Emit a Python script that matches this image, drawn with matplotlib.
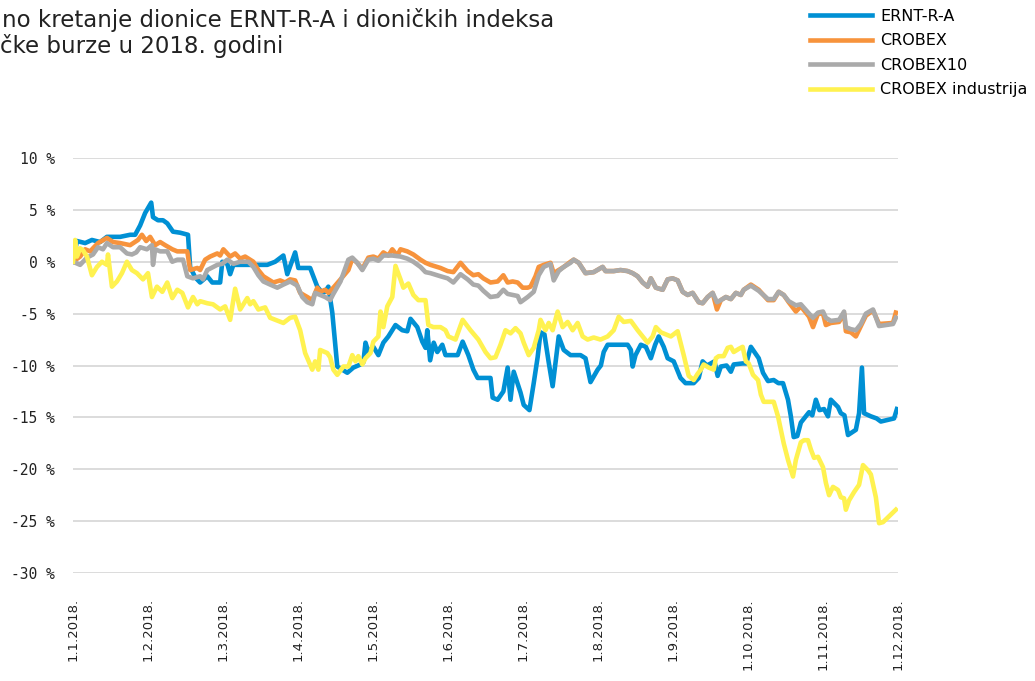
import matplotlib
matplotlib.use("Agg")
import matplotlib.pyplot as plt

# x = trading day since 1.1.2018, y = change in %
ernt_day = [0, 1.1, 3.4, 5.3, 7.6, 9.5, 13.2, 16.0, 17.4, 18.8, 20.2, 21.9, 22.4, 23.8, 25.2,
            26.4, 28.0, 30.0, 32.2, 32.8, 34.2, 35.6, 37.6, 39.0, 41.2, 41.8, 43.2, 44.0,
            44.9, 52.4, 54.4, 56.6, 58.9, 60.0, 62.2, 63.1, 66.4, 67.3, 68.4, 69.8, 70.6,
            71.5, 72.6, 74.0, 76.8, 78.5, 80.5, 81.3, 81.9, 82.7, 84.1, 85.5, 86.9, 88.3,
            90.3, 92.2, 93.6, 94.5, 96.4, 97.8, 98.7, 99.2, 100.0, 101.0, 102.0, 103.4,
            104.3, 107.7, 109.1, 110.7, 112.1, 113.3, 116.9, 117.5, 118.9, 120.5, 121.7,
            122.5, 123.4, 125.3, 126.2, 127.8, 129.0, 130.1, 130.9, 132.0, 133.2, 134.3,
            136.0, 137.4, 139.3, 142.1, 143.5, 144.9, 146.9, 147.8, 148.6, 149.7, 155.3,
            156.2, 156.7, 157.5, 159.0, 160.4, 161.8, 163.0, 164.0, 165.4, 166.5, 168.2,
            170.1, 171.5, 173.8, 175.2, 176.3, 177.5, 178.6, 179.6, 180.5, 181.4, 183.0,
            184.2, 185.0, 187.5, 188.5, 189.8, 192.0, 193.2, 194.6, 196.2, 197.5, 198.8,
            200.2, 201.0, 201.8, 202.8, 203.8, 205.2, 206.1, 207.0, 208.0, 209.0, 210.3,
            211.4, 212.2, 214.2, 215.0, 216.0, 217.0, 219.2, 220.1, 220.9, 221.5, 223.4,
            225.0, 226.2, 229.9, 230.7]
ernt_val = [0.0, 2.0, 1.8, 2.1, 1.9, 2.4, 2.4, 2.6, 2.6, 3.5, 4.7, 5.7, 4.3, 4.0, 4.0,
            3.7, 2.9, 2.8, 2.6, -0.5, -1.5, -2.0, -1.4, -2.0, -2.0, 0.0, -0.2, -1.2,
            -0.3, -0.3, -0.3, 0.0, 0.6, -1.2, 0.9, -0.6, -0.6, -1.4, -2.4, -3.0, -2.9,
            -2.4, -4.9, -10.1, -10.7, -10.2, -9.9, -9.7, -7.8, -8.7, -8.2, -9.0, -7.8, -7.2,
            -6.1, -6.6, -6.7, -5.5, -6.3, -7.7, -8.3, -6.6, -9.5, -7.8, -8.7, -8.0,
            -9.0, -9.0, -7.7, -9.0, -10.4, -11.2, -11.2, -13.1, -13.3, -12.5, -10.2,
            -13.3, -10.6, -12.6, -13.8, -14.3, -11.7, -9.2, -6.8, -7.0, -9.7, -12.0,
            -7.2, -8.5, -9.0, -9.0, -9.3, -11.6, -10.4, -10.0, -8.7, -8.0, -8.0,
            -8.5, -10.1, -9.0, -8.0, -8.2, -9.3, -8.0, -7.2, -8.2, -9.3, -9.6,
            -11.2, -11.7, -11.7, -11.2, -9.6, -10.0, -9.8, -9.6, -11.0, -10.1, -10.0,
            -10.6, -9.9, -9.8, -9.8, -8.2, -9.3, -10.7, -11.5, -11.4, -11.7, -11.7,
            -13.3, -14.9, -16.9, -16.8, -15.5, -14.9, -14.5, -14.8, -13.3, -14.3, -14.2,
            -14.9, -13.3, -14.0, -14.6, -14.8, -16.7, -16.2, -14.6, -10.2, -14.6, -14.9,
            -15.1, -15.4, -15.1, -14.2]

crobex_day = [0, 2.0, 3.4, 4.8, 5.6, 7.0, 9.5, 11.2, 13.2, 16.0, 18.2, 19.3, 20.5, 21.6,
              23.0, 24.4, 25.8, 27.8, 29.2, 32.0, 32.8, 34.8, 35.6, 37.0, 38.4, 40.4, 41.2,
              42.1, 44.0, 45.4, 46.8, 48.2, 50.5, 51.9, 53.3, 54.7, 56.1, 58.0, 59.4, 60.8,
              62.2, 63.6, 65.6, 67.0, 68.4, 69.2, 70.6, 71.5, 72.9, 74.9, 77.1, 78.2, 79.6,
              81.0, 82.7, 84.1, 85.5, 86.9, 88.3, 89.4, 90.8, 91.7, 93.6, 95.3, 97.3, 98.7,
              100.1, 102.9, 104.9, 106.5, 108.5, 110.5, 112.1, 113.5, 114.9, 116.9, 118.9,
              120.5, 121.7, 123.1, 124.5, 125.9, 127.3, 128.1, 129.5, 130.4, 131.8, 133.7,
              134.6, 136.0, 137.4, 139.3, 140.2, 141.6, 143.5, 145.8, 148.3, 149.1, 151.4,
              153.3, 155.3, 156.7, 158.1, 159.5, 160.9, 161.8, 163.2, 165.1, 166.5, 167.9,
              169.3, 170.7, 172.1, 173.5, 175.2, 176.3, 177.7, 179.1, 180.3, 181.4, 182.8,
              184.2, 185.6, 187.0, 187.8, 189.8, 192.0, 194.6, 196.2, 197.6, 199.0, 200.4,
              202.4, 203.8, 206.1, 207.2, 208.6, 210.0, 210.8, 212.2, 214.5, 215.9, 216.4,
              217.8, 219.2, 220.6, 222.0, 224.0, 225.7, 229.6, 230.4]
crobex_val = [0.0, 0.5, 1.2, 1.0, 1.3, 1.8, 2.3, 1.9, 1.8, 1.6, 2.1, 2.6, 2.0, 2.4,
              1.6, 1.9, 1.6, 1.2, 1.0, 1.0, -0.8, -0.6, -0.8, 0.2, 0.5, 0.8, 0.6,
              1.2, 0.5, 0.8, 0.3, 0.5, 0.0, -0.8, -1.4, -1.7, -2.0, -1.8, -2.0, -1.7,
              -1.8, -3.0, -3.4, -3.7, -2.5, -2.9, -2.7, -3.0, -2.5, -1.7, -0.8, 0.3, -0.1,
              -0.7, 0.4, 0.5, 0.3, 0.9, 0.6, 1.2, 0.6, 1.2, 1.0, 0.7, 0.2, -0.1,
              -0.3, -0.6, -0.9, -1.0, -0.1, -0.9, -1.3, -1.2, -1.6, -2.0, -1.9,
              -1.3, -2.0, -1.9, -2.0, -2.5, -2.5, -2.4, -1.4, -0.5, -0.3, -0.1,
              -1.1, -0.8, -0.5, 0.0, 0.2, -0.1, -1.1, -1.0, -0.5, -0.9, -0.9,
              -0.8, -0.9, -1.1, -1.4, -2.0, -2.4, -1.6, -2.5, -2.7, -1.7, -1.6,
              -1.8, -2.9, -3.2, -3.0, -3.9, -4.0, -3.4, -3.0, -4.6, -3.7, -3.4,
              -3.6, -3.0, -3.2, -2.7, -2.2, -2.7, -3.7, -3.7, -2.9, -3.2, -3.9,
              -4.8, -4.3, -5.3, -6.3, -5.0, -5.0, -6.1, -5.9, -5.8, -5.0, -6.7,
              -6.8, -7.2, -6.2, -5.2, -4.7, -6.0, -5.9, -4.9]

crobex10_day = [0, 2.0, 3.9, 5.6, 7.0, 8.4, 9.5, 11.2, 13.2, 15.1, 16.5, 17.7, 18.8, 20.7,
                22.1, 22.4, 23.0, 24.4, 26.4, 27.8, 29.2, 30.8, 32.0, 33.6, 35.6, 36.4,
                37.6, 40.4, 41.8, 43.2, 44.9, 46.8, 49.1, 50.5, 51.9, 53.3, 55.2, 57.2,
                58.9, 60.8, 62.8, 64.2, 65.6, 67.0, 67.8, 69.2, 70.6, 72.0, 72.9, 74.9,
                77.1, 78.2, 79.6, 81.0, 82.7, 84.1, 85.5, 86.9, 89.4, 91.7, 93.6, 95.3,
                97.3, 98.7, 100.1, 102.9, 104.9, 106.5, 108.5, 110.5, 112.1, 113.5, 114.9,
                116.9, 118.9, 120.5, 121.7, 123.1, 124.5, 125.3, 127.3, 129.0, 130.4,
                131.8, 133.7, 134.6, 136.0, 137.4, 139.3, 140.2, 141.6, 143.5, 145.8,
                148.3, 149.1, 151.4, 153.3, 155.3, 156.7, 158.1, 159.5, 160.9, 161.8,
                163.2, 165.1, 166.5, 167.9, 169.3, 170.7, 172.1, 173.5, 175.2, 176.3,
                177.7, 179.1, 180.3, 181.4, 182.8, 184.2, 185.6, 187.0, 187.8, 189.8,
                192.0, 194.6, 196.2, 197.6, 199.0, 200.4, 202.4, 203.8, 206.1, 207.2,
                208.6, 210.0, 210.8, 212.2, 214.5, 215.9, 216.4, 217.8, 219.2, 220.6,
                222.0, 224.0, 225.7, 229.6, 230.4]
crobex10_val = [0.0, -0.3, 0.4, 0.7, 1.4, 1.2, 1.8, 1.4, 1.4, 0.8, 0.7, 0.9, 1.4, 1.2,
                1.6, -0.3, 1.2, 1.0, 1.0, 0.0, 0.2, 0.2, -1.4, -1.6, -1.4, -1.7,
                -0.8, -0.3, -0.2, 0.2, -0.2, 0.0, 0.0, -0.5, -1.3, -1.9, -2.2, -2.5,
                -2.2, -1.9, -2.3, -3.4, -3.9, -4.1, -3.0, -3.2, -3.4, -3.7, -3.1, -1.9,
                0.2, 0.4, -0.1, -0.8, 0.2, 0.3, 0.1, 0.6, 0.6, 0.5, 0.3, 0.0,
                -0.5, -1.0, -1.1, -1.4, -1.6, -2.0, -1.2, -1.7, -2.2, -2.3, -2.8,
                -3.4, -3.3, -2.7, -3.1, -3.2, -3.3, -3.9, -3.4, -2.9, -1.3,
                -0.5, -0.2, -1.8, -0.9, -0.5, -0.1, 0.2, -0.1, -1.1, -1.0,
                -0.5, -0.9, -0.9, -0.8, -0.9, -1.1, -1.4, -2.0, -2.4, -1.6,
                -2.5, -2.7, -1.7, -1.6, -1.8, -2.9, -3.2, -3.0, -3.9, -4.0,
                -3.4, -3.0, -3.9, -3.7, -3.4, -3.6, -3.0, -3.2, -2.7, -2.3,
                -2.8, -3.6, -3.6, -2.9, -3.2, -3.8, -4.2, -4.1, -5.0, -5.4,
                -4.9, -4.8, -5.4, -5.7, -5.6, -4.8, -6.3, -6.5, -6.6, -6.0,
                -5.0, -4.6, -6.2, -6.0, -5.4]

industrija_day = [0, 0.6, 1.1, 2.0, 2.8, 3.9, 5.3, 6.7, 8.1, 9.5, 9.8, 10.9, 12.3, 13.7,
                  15.1, 16.5, 17.9, 19.6, 21.0, 22.1, 23.5, 25.0, 26.4, 27.8, 29.2, 30.6,
                  32.2, 33.6, 34.8, 35.6, 37.6, 39.2, 41.2, 42.6, 44.0, 45.4, 46.8, 48.8,
                  49.6, 50.5, 51.9, 53.8, 55.2, 58.9, 60.8, 62.2, 63.6, 65.0, 67.0, 67.8,
                  68.7, 69.2, 71.2, 72.0, 72.9, 74.0, 75.7, 77.1, 78.2, 79.1, 79.9, 81.0,
                  81.9, 83.3, 84.1, 85.5, 86.1, 86.9, 88.0, 89.4, 90.3, 91.7, 92.5, 93.9,
                  95.3, 96.7, 98.7, 99.5, 100.9, 102.9, 104.3, 105.1, 107.1, 109.1, 111.3,
                  113.5, 115.5, 116.9, 118.3, 119.7, 121.1, 122.5, 123.9, 125.3, 126.2,
                  127.6, 129.0, 130.4, 130.9, 132.3, 133.2, 134.3, 135.7, 137.1, 138.5,
                  139.9, 141.3, 142.7, 144.1, 145.8, 147.7, 149.7, 151.4, 152.8, 154.2,
                  156.2, 158.1, 159.5, 160.9, 162.3, 163.2, 164.6, 166.0, 167.4, 169.3,
                  171.0, 172.4, 173.8, 174.9, 175.8, 176.6, 178.0, 179.4, 180.0, 180.8,
                  182.2, 183.3, 184.2, 185.0, 186.4, 187.5, 188.4, 189.2, 190.4, 191.8,
                  192.6, 193.4, 196.2, 197.4, 198.2, 199.0, 200.2, 201.6, 202.4, 203.8,
                  204.7, 205.8, 206.6, 207.5, 208.6, 210.0, 210.8, 211.7, 212.8, 214.2,
                  215.0, 215.9, 216.4, 217.3, 218.7, 220.1, 221.2, 222.6, 223.4, 224.8,
                  225.7, 226.8, 230.4]
industrija_val = [0.0, 2.1, 0.5, 1.3, 1.1, 0.5, -1.3, -0.5, 0.0, -0.3, 0.7, -2.4, -1.9, -1.1,
                  0.0, -0.8, -1.1, -1.7, -1.1, -3.4, -2.4, -2.9, -2.0, -3.5, -2.7, -3.0,
                  -4.4, -3.4, -4.1, -3.8, -4.0, -4.1, -4.6, -4.3, -5.6, -2.6, -4.6, -3.5,
                  -4.1, -3.8, -4.6, -4.4, -5.4, -5.9, -5.4, -5.3, -6.6, -8.8, -10.4, -9.6,
                  -10.4, -8.5, -8.8, -9.2, -10.4, -10.9, -10.1, -10.1, -9.0, -9.6, -9.1, -9.9,
                  -9.3, -8.8, -7.7, -7.2, -4.8, -6.3, -4.3, -3.4, -0.4, -1.7, -2.5, -2.1,
                  -3.2, -3.7, -3.7, -6.1, -6.3, -6.3, -6.6, -7.2, -7.5, -5.6, -6.6,
                  -7.5, -8.7, -9.3, -9.2, -8.0, -6.6, -6.9, -6.4, -6.9, -7.8,
                  -9.0, -8.3, -6.6, -5.6, -6.6, -5.9, -6.6, -4.8, -6.3, -5.8,
                  -6.6, -5.9, -7.2, -7.5, -7.3, -7.5, -7.2, -6.6, -5.3, -5.8,
                  -5.7, -6.6, -7.2, -7.8, -7.2, -6.3, -6.8, -7.0, -7.2, -6.7,
                  -9.0, -11.0, -11.4, -10.8, -10.4, -9.9, -10.2, -10.4, -9.3, -9.1,
                  -9.1, -8.3, -8.2, -8.7, -8.4, -8.2, -9.6, -9.8, -10.9, -11.4,
                  -12.8, -13.5, -13.5, -14.9, -16.2, -17.5, -19.1, -20.7, -19.1, -17.4,
                  -17.2, -17.2, -18.1, -18.9, -18.8, -19.8, -21.3, -22.5, -21.7, -22.0,
                  -22.7, -22.8, -23.9, -23.0, -22.2, -21.5, -19.6, -20.1, -20.5, -22.7,
                  -25.2, -25.1, -23.9]

series = [
    ("ERNT-R-A", ernt_day, ernt_val, "#0090d4"),
    ("CROBEX", crobex_day, crobex_val, "#f7933c"),
    ("CROBEX10", crobex10_day, crobex10_val, "#aaaaaa"),
    ("CROBEX industrija", industrija_day, industrija_val, "#fff250"),
]

tick_days = [0, 21, 42, 63, 84, 105, 126, 147, 168, 189, 210, 231]
tick_labels = ["1.1.2018.", "1.2.2018.", "1.3.2018.", "1.4.2018.", "1.5.2018.", "1.6.2018.",
               "1.7.2018.", "1.8.2018.", "1.9.2018.", "1.10.2018.", "1.11.2018.", "1.12.2018."]
y_ticks = [10, 5, 0, -5, -10, -15, -20, -25, -30]

title_lines = ["no kretanje dionice ERNT-R-A i dioničkih indeksa",
               "čke burze u 2018. godini"]

W, H = 1035, 681
fig = plt.figure(figsize=(W / 100, H / 100), dpi=100)
ax = fig.add_axes([73 / W, 1 - 573 / H, (898 - 73) / W, (573 - 158) / H])

for name, d, v, c in series:
    ax.plot(d, v, color=c, lw=3.3, label=name, solid_joinstyle="round")

ax.set_xlim(0, 231)
ax.set_ylim(-30, 10)
ax.set_yticks(y_ticks)
ax.set_yticklabels([f"{t} %" for t in y_ticks], family="DejaVu Sans Mono", fontsize=10.5)
ax.set_xticks(tick_days)
ax.set_xticklabels(tick_labels, rotation=90, family="DejaVu Sans", fontsize=9.5,
                   va="top", ha="center")
ax.tick_params(axis="y", length=0, pad=13, colors="#222222")
ax.tick_params(axis="x", length=0, pad=18, colors="#222222")
ax.grid(axis="y", color="#d9d9d9", lw=1.3)
ax.set_axisbelow(True)
for s in ax.spines.values():
    s.set_visible(False)

fig.text(2 / W, 1 - 27 / H, title_lines[0], family="DejaVu Sans", fontsize=16.5,
         color="#222222", va="baseline")
fig.text(0 / W, 1 - 53 / H, title_lines[1], family="DejaVu Sans", fontsize=16.5,
         color="#222222", va="baseline")

fig.legend(loc="upper left", bbox_to_anchor=(810 / W, 1 - 9 / H), frameon=False,
           prop={"family": "DejaVu Sans", "size": 11.5}, handlelength=3.9,
           handletextpad=0.5, labelspacing=0.59, borderaxespad=0, borderpad=0)

fig.savefig("out.png", dpi=100)
